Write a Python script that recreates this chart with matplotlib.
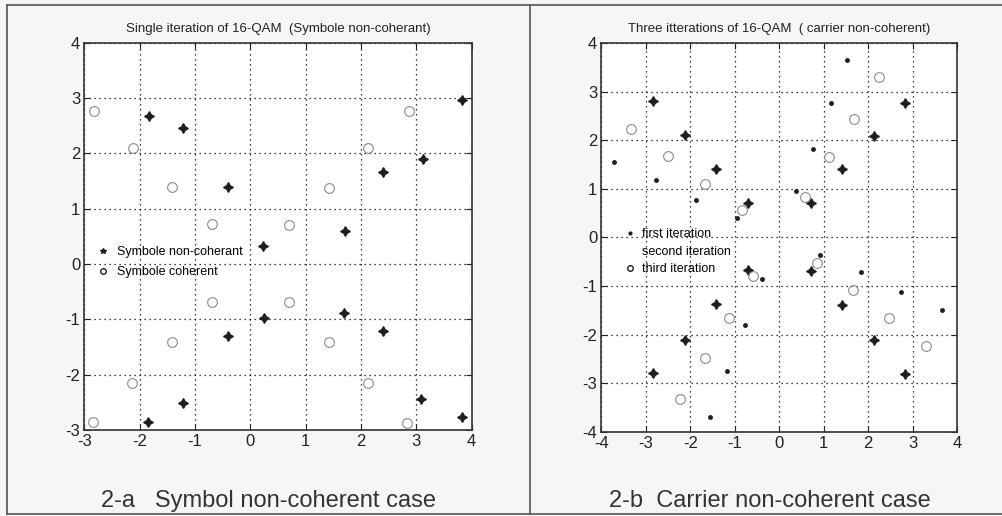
import matplotlib.pyplot as plt
import numpy as np
from matplotlib.lines import Line2D

# ---- panel a : single iteration (symbol non-coherent) ----
a_coh_x = [-2.83, -2.12, -1.42, -0.70, 2.86, 2.13, 1.42, 0.70,
           -0.70, -1.42, -2.14, -2.84, 0.70, 1.42, 2.13, 2.83]
a_coh_y = [2.77, 2.09, 1.39, 0.72, 2.76, 2.10, 1.38, 0.70,
           -0.68, -1.41, -2.15, -2.86, -0.68, -1.41, -2.15, -2.87]
a_non_x = [-1.83, -1.21, -0.41, 3.82, 3.12, 2.40, 1.71, 0.22,
           -0.41, -1.22, -1.85, 0.25, 1.70, 2.40, 3.08, 3.82]
a_non_y = [2.68, 2.46, 1.39, 2.97, 1.89, 1.66, 0.60, 0.33,
           -1.31, -2.51, -2.86, -0.98, -0.89, -1.22, -2.44, -2.77]

# ---- panel b : three iterations (carrier non-coherent) ----
b_it1_x = [-3.72, -2.78, -1.87, -0.95, 1.53, 1.16, 0.76, 0.37,
           -0.39, -0.77, -1.17, -1.55, 0.92, 1.84, 2.74, 3.66]
b_it1_y = [1.55, 1.18, 0.78, 0.41, 3.66, 2.76, 1.82, 0.95,
           -0.86, -1.80, -2.75, -3.69, -0.36, -0.72, -1.12, -1.50]
b_it2_x = [-2.83, -2.11, -1.42, -0.71, 2.83, 2.13, 1.42, 0.72,
           -0.71, -1.42, -2.13, -2.84, 0.71, 1.41, 2.13, 2.82]
b_it2_y = [2.81, 2.12, 1.42, 0.72, 2.78, 2.10, 1.41, 0.71,
           -0.67, -1.37, -2.11, -2.80, -0.69, -1.39, -2.11, -2.81]
b_it3_x = [-3.33, -2.50, -1.66, -0.84, 2.24, 1.68, 1.12, 0.58,
           -0.58, -1.12, -1.68, -2.24, 0.84, 1.66, 2.48, 3.30]
b_it3_y = [2.23, 1.68, 1.11, 0.56, 3.31, 2.45, 1.65, 0.84,
           -0.79, -1.65, -2.49, -3.33, -0.53, -1.08, -1.65, -2.23]

a_ticks_x = [-3, -2, -1, 0, 1, 2, 3, 4]
a_ticks_y = [-3, -2, -1, 0, 1, 2, 3, 4]
b_ticks = [-4, -3, -2, -1, 0, 1, 2, 3, 4]

narrow = ['Liberation Sans Narrow', 'Liberation Sans', 'DejaVu Sans']
plt.rcParams['font.family'] = narrow
plt.rcParams['axes.unicode_minus'] = False

star = (4, 1, 0)
dark = '#1e1e1e'
grey = '#8a8a8a'

fig = plt.figure(figsize=(10.03, 5.16), dpi=100, facecolor='#f6f6f6')
ax_a = fig.add_axes([0.0842, 0.1667, 0.386, 0.7506])
ax_b = fig.add_axes([0.5997, 0.1634, 0.3544, 0.7527])


def style_axes(ax, xt, yt):
    ax.set_facecolor('white')
    ax.set_xlim(xt[0], xt[-1])
    ax.set_ylim(yt[0], yt[-1])
    ax.set_xticks(xt)
    ax.set_yticks(yt)
    ax.grid(True, color='black', linestyle=(0, (1, 3)), linewidth=0.9)
    ax.tick_params(direction='in', length=4, top=True, right=True,
                   labelsize=12, colors='#222222', pad=3)
    for s in ax.spines.values():
        s.set_linewidth(1.2)
        s.set_color('#333333')


# panel a
style_axes(ax_a, a_ticks_x, a_ticks_y)
ax_a.plot(a_non_x, a_non_y, linestyle='none', marker=star,
          markersize=7, color=dark)
ax_a.plot(a_coh_x, a_coh_y, linestyle='none', marker='o',
          markersize=7, fillstyle='none', color=grey, markeredgewidth=0.8)
ax_a.legend([Line2D([], [], linestyle='none', marker='*', markersize=4, color=dark),
             Line2D([], [], linestyle='none', marker='o', markersize=4,
                    fillstyle='none', color=dark)],
            ['Symbole non-coherant', 'Symbole coherent'],
            loc='upper left', bbox_to_anchor=(0.015, 0.49), frameon=False,
            fontsize=9, handlelength=1.0, handletextpad=0.6,
            labelspacing=0.6, borderpad=0)
ax_a.set_title('Single iteration of 16-QAM  (Symbole non-coherant)',
               fontsize=9.5, pad=8, color='#222222')

# panel b
style_axes(ax_b, b_ticks, b_ticks)
ax_b.plot(b_it1_x, b_it1_y, linestyle='none', marker='.', markersize=5, color=dark)
ax_b.plot(b_it2_x, b_it2_y, linestyle='none', marker=star, markersize=7, color=dark)
ax_b.plot(b_it3_x, b_it3_y, linestyle='none', marker='o', markersize=7,
          fillstyle='none', color=grey, markeredgewidth=0.8)
ax_b.legend([Line2D([], [], linestyle='none', marker='.', markersize=4, color=dark),
             Line2D([], [], linestyle='none', marker='none'),
             Line2D([], [], linestyle='none', marker='o', markersize=4,
                    fillstyle='none', color=dark)],
            ['first iteration', 'second iteration', 'third iteration'],
            loc='upper left', bbox_to_anchor=(0.045, 0.54), frameon=False,
            fontsize=9, handlelength=1.0, handletextpad=0.5,
            labelspacing=0.45, borderpad=0)
ax_b.set_title('Three itterations of 16-QAM  ( carrier non-coherent)',
               fontsize=9.5, pad=8, color='#222222')

# captions
cap = ['Liberation Sans', 'DejaVu Sans']
fig.text(0.268, 0.018, '2-a   Symbol non-coherent case', ha='center', va='baseline',
         fontsize=17, family=cap, color='#333333')
fig.text(0.768, 0.018, '2-b  Carrier non-coherent case', ha='center', va='baseline',
         fontsize=17, family=cap, color='#333333')

# outer frame of the scanned figure
frame_kw = dict(color='#555555', linewidth=1.2, transform=fig.transFigure)
fig.add_artist(Line2D([0.007, 1.0], [0.99, 0.99], **frame_kw))
fig.add_artist(Line2D([0.007, 1.0], [0.004, 0.004], **frame_kw))
fig.add_artist(Line2D([0.007, 0.007], [0.004, 0.99], **frame_kw))
fig.add_artist(Line2D([0.528, 0.528], [0.004, 0.99], **frame_kw))

fig.savefig('out.png', dpi=100, facecolor=fig.get_facecolor())
